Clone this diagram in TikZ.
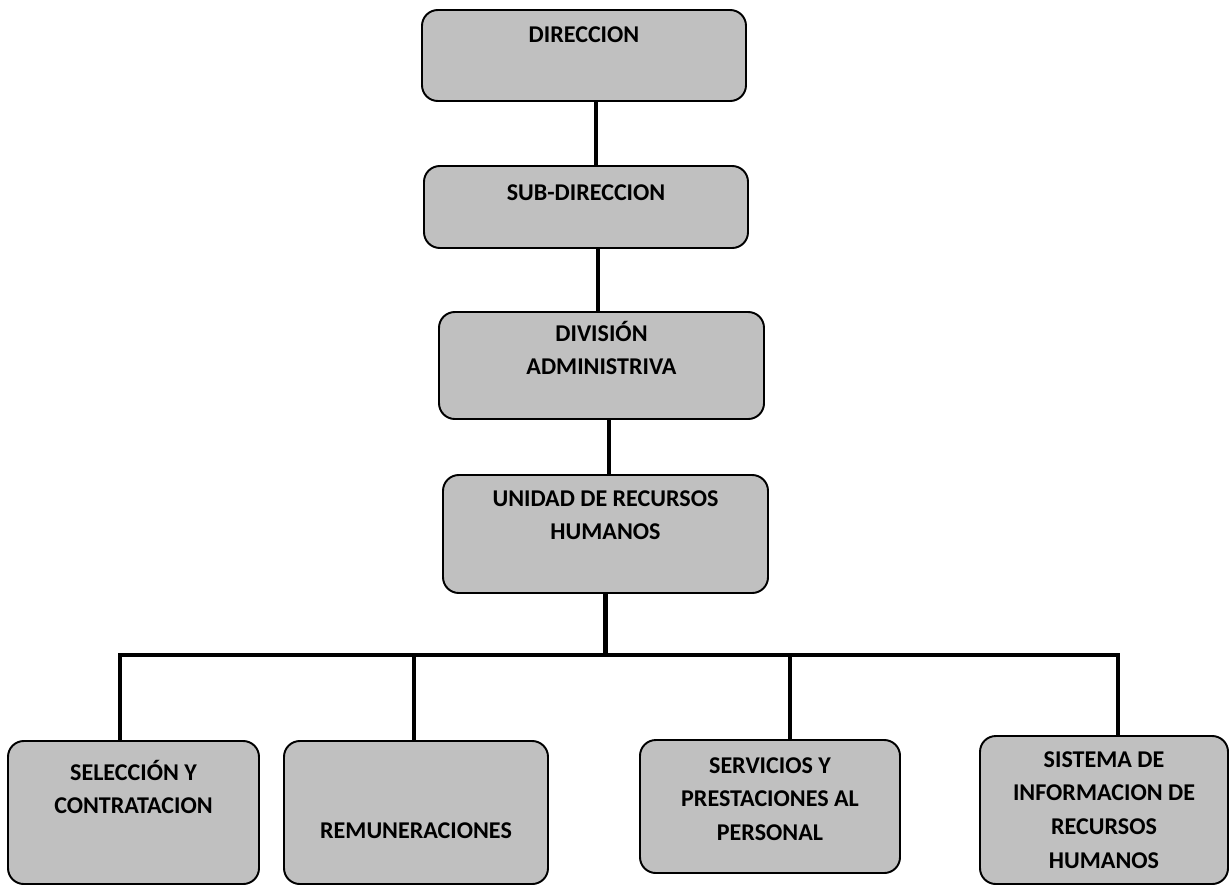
\documentclass[tikz,border=0pt]{standalone}
\usepackage{fontspec}
\setmainfont{Carlito}
\newlength{\px}
\setlength{\px}{0.02cm}
\newcommand{\boxtext}[4]{\parbox[c][#2\px][t]{#1\px}{\centering\rule{0pt}{#3\px}#4\par}}
\definecolor{boxgray}{HTML}{C0C0C0}
\tikzset{
  unit/.style={draw, fill=boxgray, rounded corners=9pt, line width=1.1pt, inner sep=0pt, font=\bfseries\fontsize{13.7}{19.2}\selectfont},
  link/.style={line width=2.8pt}
}
\begin{document}
\begin{tikzpicture}[x=0.02cm,y=-0.02cm]
\useasboundingbox (0,0) rectangle (1230,886);
\node[unit] (dir) at (584,55.5) {\boxtext{324}{91}{32}{DIRECCION}};
\node[unit] (sub) at (586,207) {\boxtext{324}{82}{34}{SUB-DIRECCION}};
\node[unit] (div) at (601.5,365.5) {\boxtext{325}{107}{29}{DIVISIÓN\\ADMINISTRIVA}};
\node[unit] (uni) at (605.5,534) {\boxtext{325}{118}{31}{UNIDAD DE RECURSOS\\HUMANOS}};
\node[unit] (sel) at (133.5,812.5) {\boxtext{251}{143}{39}{SELECCIÓN Y\\CONTRATACION}};
\node[unit] (rem) at (416,812.5) {\boxtext{264}{143}{97}{REMUNERACIONES}};
\node[unit] (ser) at (770,806.5) {\boxtext{260}{133}{33}{SERVICIOS Y\\PRESTACIONES AL\\PERSONAL}};
\node[unit] (sis) at (1104,810) {\boxtext{248}{148}{31}{SISTEMA DE\\INFORMACION DE\\RECURSOS\\HUMANOS}};
\coordinate (t1) at (120,655);
\coordinate (t2) at (414,655);
\coordinate (t3) at (790,655);
\coordinate (t4) at (1118,655);
\draw[link] ([xshift=0.24cm]dir.south) -- ([xshift=0.24cm]dir.south |- sub.north);
\draw[link] ([xshift=0.24cm]sub.south) -- ([xshift=0.24cm]sub.south |- div.north);
\draw[link] ([xshift=0.15cm]div.south) -- ([xshift=0.15cm]div.south |- uni.north);
\draw[link] (uni.south) -- (uni.south |- t1);
\draw[link] (t1 |- sel.north) -- (t1) -- (t4) -- (t4 |- sis.north);
\draw[link] (t2) -- (t2 |- rem.north);
\draw[link] (t3) -- (t3 |- ser.north);
\end{tikzpicture}
\end{document}
